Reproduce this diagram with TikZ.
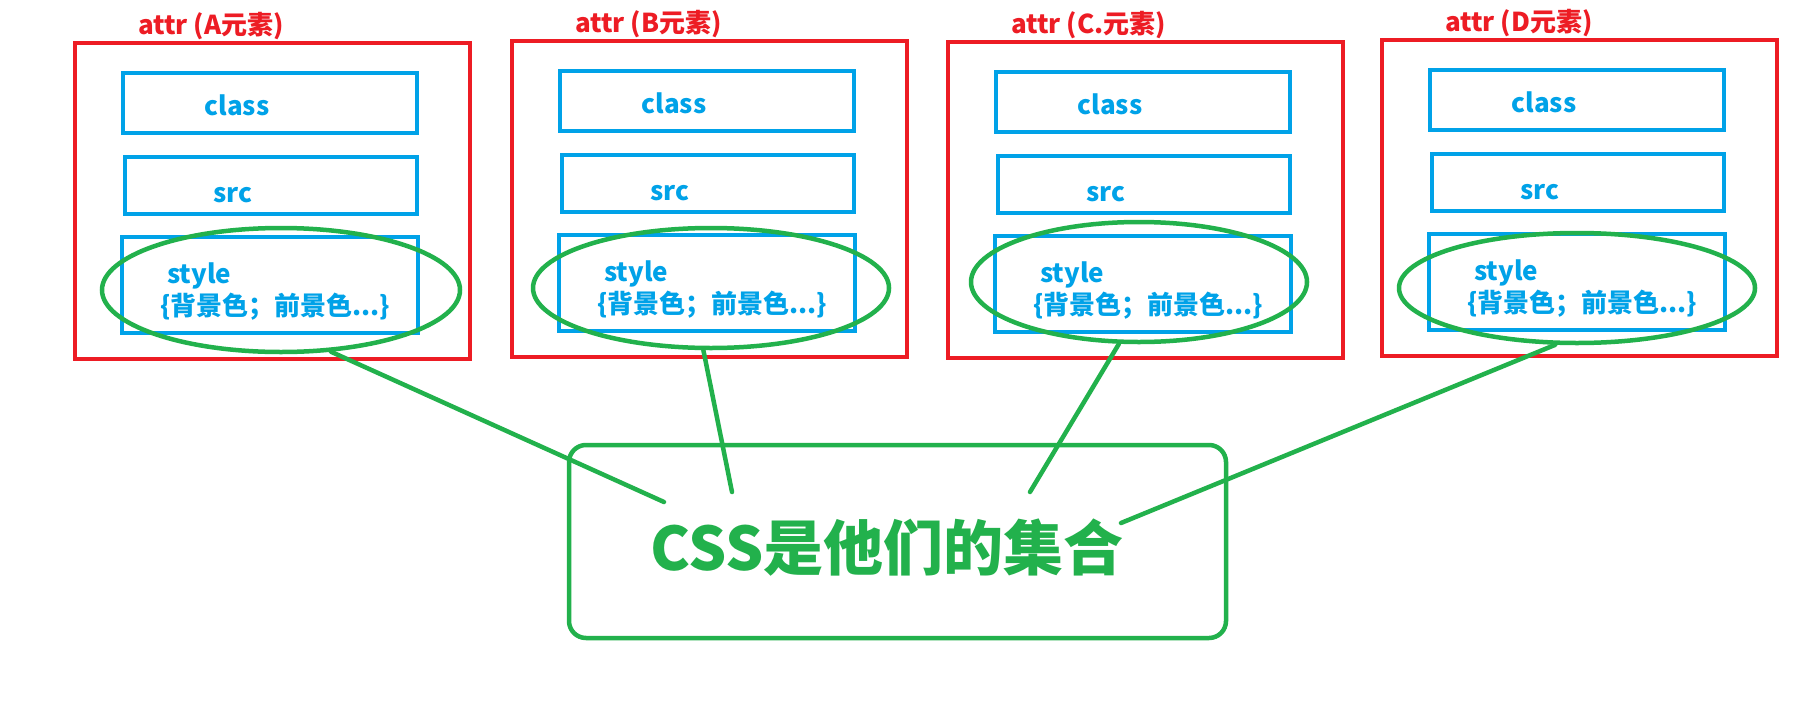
\documentclass[tikz,border=0pt]{standalone}
\usepackage{fontspec}
\setmainfont{Noto Sans CJK SC}
\usetikzlibrary{shapes.geometric}
\definecolor{myred}{HTML}{ED1C24}
\definecolor{myblue}{HTML}{00A2E8}
\definecolor{mygreen}{HTML}{22B14C}
\tikzset{
  redbox/.style={draw=myred, line width=4.5pt, inner sep=0pt, minimum width=395pt, minimum height=316pt},
  bluebox/.style={draw=myblue, line width=4.5pt, inner sep=0pt},
  ellbox/.style={draw=mygreen, ellipse, line width=4.5pt, inner sep=0pt},
  gline/.style={draw=mygreen, line width=4.5pt, line cap=round},
  title/.style={text=myred, font=\fontsize{26pt}{30pt}\selectfont\bfseries, inner sep=0pt},
  btext/.style={text=myblue, font=\fontsize{26pt}{30pt}\selectfont\bfseries, inner sep=0pt},
  mainbox/.style={draw=mygreen, line width=4.5pt, rounded corners=17pt, inner sep=0pt, minimum width=657pt, minimum height=193pt},
  maintext/.style={text=mygreen, font=\fontsize{60pt}{66pt}\selectfont\bfseries, inner sep=0pt}
}
\begin{document}
\begin{tikzpicture}[x=1pt, y=-1pt]
\useasboundingbox (0,0) rectangle (1798,723);
\fill[white] (0,0) rectangle (1798,723);
% main box
\node[mainbox] (main) at (897.5,541.5) {};
\node[maintext] (css) at (887,548) {CSS是他们的集合};
\coordinate (endA) at (664,502);
\coordinate (endB) at (732,492);
\coordinate (endC) at (1030,492);
\coordinate (endD) at (1121,523);
\foreach \n/\t/\L/\T/\ex/\ey/\rx/\ry/\ang in {
  A/A/75/43/281/290/179/62/-51,
  B/B/512/41/711/288/178/60/-97,
  C/C./948/42/1139/282/168/60/-108,
  D/D/1382/40/1577/288/178/55/-111}{
  \node[redbox] (red\n) at (\L+197.5,\T+158) {};
  \node[title, anchor=west] (title\n) at (\L+63,\T-17) {attr (\t 元素)};
  \node[bluebox, minimum width=294pt, minimum height=60pt] (class\n) at (\L+195,\T+60) {};
  \node[bluebox, minimum width=292pt, minimum height=57pt] (src\n) at (\L+196,\T+142.5) {};
  \node[bluebox, minimum width=296pt, minimum height=96pt] (style\n) at (\L+195,\T+242) {};
  \node[btext, anchor=base] (classt\n) at (\L+162,\T+72) {class};
  \node[btext, anchor=base] (srct\n) at (\L+158,\T+159) {src};
  \node[btext, anchor=base west] (stylet\n) at (\L+92,\T+240) {style};
  \node[btext, anchor=west] (bracet\n) at (\L+85,\T+264) {\{背景色；前景色...\}};
  \node[ellbox, minimum width=2*\rx pt, minimum height=2*\ry pt] (ell\n) at (\ex,\ey) {};
  \draw[gline] (ell\n.\ang) -- (end\n);
}
\end{tikzpicture}
\end{document}
